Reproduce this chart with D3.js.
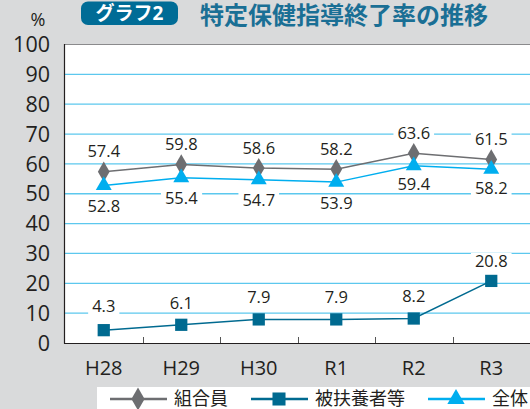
<!DOCTYPE html>
<html>
<head>
<meta charset="utf-8">
<script src="https://cdn.jsdelivr.net/npm/d3@7"></script>
<style>
body{margin:0;background:#d9dadb;}
svg{display:block;}
text{font-family:"Open Sans","Noto Sans CJK JP",sans-serif;font-weight:400;}
</style>
</head>
<body>
<div id="chart"></div>
<script>
// data
var years = ["H28","H29","H30","R1","R2","R3"];
var kumiai = [57.4,59.8,58.6,58.2,63.6,61.5];
var fuyou = [4.3,6.1,7.9,7.9,8.2,20.8];
var zentai = [52.8,55.4,54.7,53.9,59.4,58.2];
var yTicks = [0,10,20,30,40,50,60,70,80,90,100];

var W = 530, H = 409;
var svg = d3.select("#chart").append("svg").attr("width",W).attr("height",H);

var x = d3.scaleBand().domain(years).range([65,530]);
var y = d3.scaleLinear().domain([0,100]).range([343,44.5]);

// plot bg
svg.append("rect").attr("x",64).attr("y",44).attr("width",W-64).attr("height",343-44).attr("fill","#fff");

// grid
svg.selectAll("line.grid").data(yTicks.filter(function(d){return d>0 && d<100;}))
	.enter().append("line")
	.attr("x1",65).attr("x2",W)
	.attr("y1",function(d){return y(d);}).attr("y2",function(d){return y(d);})
	.attr("stroke","#5cc8ee").attr("stroke-width",1.3);

// top border
svg.append("line").attr("x1",64).attr("x2",W).attr("y1",44.5).attr("y2",44.5).attr("stroke","#8a8a8c").attr("stroke-width",1);
// axes
svg.append("line").attr("x1",64.5).attr("x2",64.5).attr("y1",44).attr("y2",343.5).attr("stroke","#231f20").attr("stroke-width",1.2);
svg.append("line").attr("x1",64).attr("x2",W).attr("y1",343.5).attr("y2",343.5).attr("stroke","#231f20").attr("stroke-width",1.2);

// x ticks (band boundaries)
svg.selectAll("line.xt").data(years.slice(1)).enter().append("line")
	.attr("x1",function(d){return Math.round(x(d))+0.5;}).attr("x2",function(d){return Math.round(x(d))+0.5;})
	.attr("y1",337).attr("y2",343).attr("stroke","#555").attr("stroke-width",1);

// y labels
svg.selectAll("text.yl").data(yTicks).enter().append("text")
	.attr("x",50).attr("y",function(d){return y(d);}).attr("dy","0.36em")
	.attr("text-anchor","end").attr("font-size",21.5).attr("fill","#231f20")
	.text(function(d){return d;});
svg.append("text").attr("x",38).attr("y",26).attr("text-anchor","middle").attr("font-size",18).attr("fill","#231f20").text("%");

// x labels
svg.selectAll("text.xl").data(years).enter().append("text")
	.attr("x",function(d){return x(d)+x.bandwidth()/2;}).attr("y",375)
	.attr("text-anchor","middle").attr("font-size",20).attr("fill","#231f20")
	.text(function(d){return d;});

// title
svg.append("rect").attr("x",81).attr("y",1.5).attr("width",97).attr("height",23.5).attr("rx",7).attr("fill","#006c96");
svg.append("text").attr("x",129.5).attr("y",20).attr("text-anchor","middle").attr("font-size",19).style("font-weight","bold").attr("fill","#fff").text("グラフ2");
svg.append("text").attr("x",200).attr("y",24).attr("font-size",24).style("font-weight","bold").attr("fill","#1a6f95").text("特定保健指導終了率の推移");

var cx = function(i){return x(years[i])+x.bandwidth()/2;};

function drawSeries(vals,color,sw,shape,size){
	var line = d3.line().x(function(d,i){return cx(i);}).y(function(d){return y(d);});
	svg.append("path").datum(vals).attr("d",line).attr("fill","none").attr("stroke",color).attr("stroke-width",sw);
	svg.selectAll(null).data(vals).enter().append("path")
		.attr("transform",function(d,i){return "translate("+cx(i)+","+y(d)+")";})
		.attr("d",d3.symbol().type(shape).size(size))
		.attr("fill",color);
}

var cGray = "#6d6e71", cTeal = "#006a90", cCyan = "#00aeef";

function labels(vals,offs){
	var g = svg.append("g");
	vals.forEach(function(v,i){
		var tx = cx(i), ty = y(v)+offs[i];
		var t = g.append("text").attr("x",tx).attr("y",ty).attr("dy","0.35em")
			.attr("text-anchor","middle").attr("font-size",16.5).attr("fill","#231f20").text(v.toFixed(1));
		var bb = t.node().getBBox();
		g.insert("rect","text").attr("x",bb.x-4).attr("y",ty-8).attr("width",bb.width+8).attr("height",16).attr("fill","#fff");
	});
}

labels(kumiai,[-20,-20,-20,-20,-20,-20]);
labels(zentai,[21,21,21,21,19,19]);
labels(fuyou,[-24,-22,-22,-22,-22,-20]);

drawSeries(kumiai,cGray,1.5,d3.symbolDiamond,120);
drawSeries(zentai,cCyan,1.5,d3.symbolTriangle,110);
drawSeries(fuyou,cTeal,1.5,d3.symbolSquare,150);

// legend
svg.append("rect").attr("x",97).attr("y",387).attr("width",W-97).attr("height",H-387).attr("fill","#fff");
var legend = [
	{name:"組合員",color:cGray,shape:d3.symbolDiamond,size:150,x0:110},
	{name:"被扶養者等",color:cTeal,shape:d3.symbolSquare,size:170,x0:251},
	{name:"全体",color:cCyan,shape:d3.symbolTriangle,size:130,x0:428}
];
legend.forEach(function(l){
	var ly = 399;
	svg.append("line").attr("x1",l.x0).attr("x2",l.x0+57).attr("y1",ly).attr("y2",ly).attr("stroke",l.color).attr("stroke-width",2.5);
	svg.append("path").attr("transform","translate("+(l.x0+28)+","+ly+")").attr("d",d3.symbol().type(l.shape).size(l.size)).attr("fill",l.color);
	svg.append("text").attr("x",l.x0+64).attr("y",ly).attr("dy","0.36em").attr("font-size",18).attr("fill","#231f20").text(l.name);
});
</script>
</body>
</html>
